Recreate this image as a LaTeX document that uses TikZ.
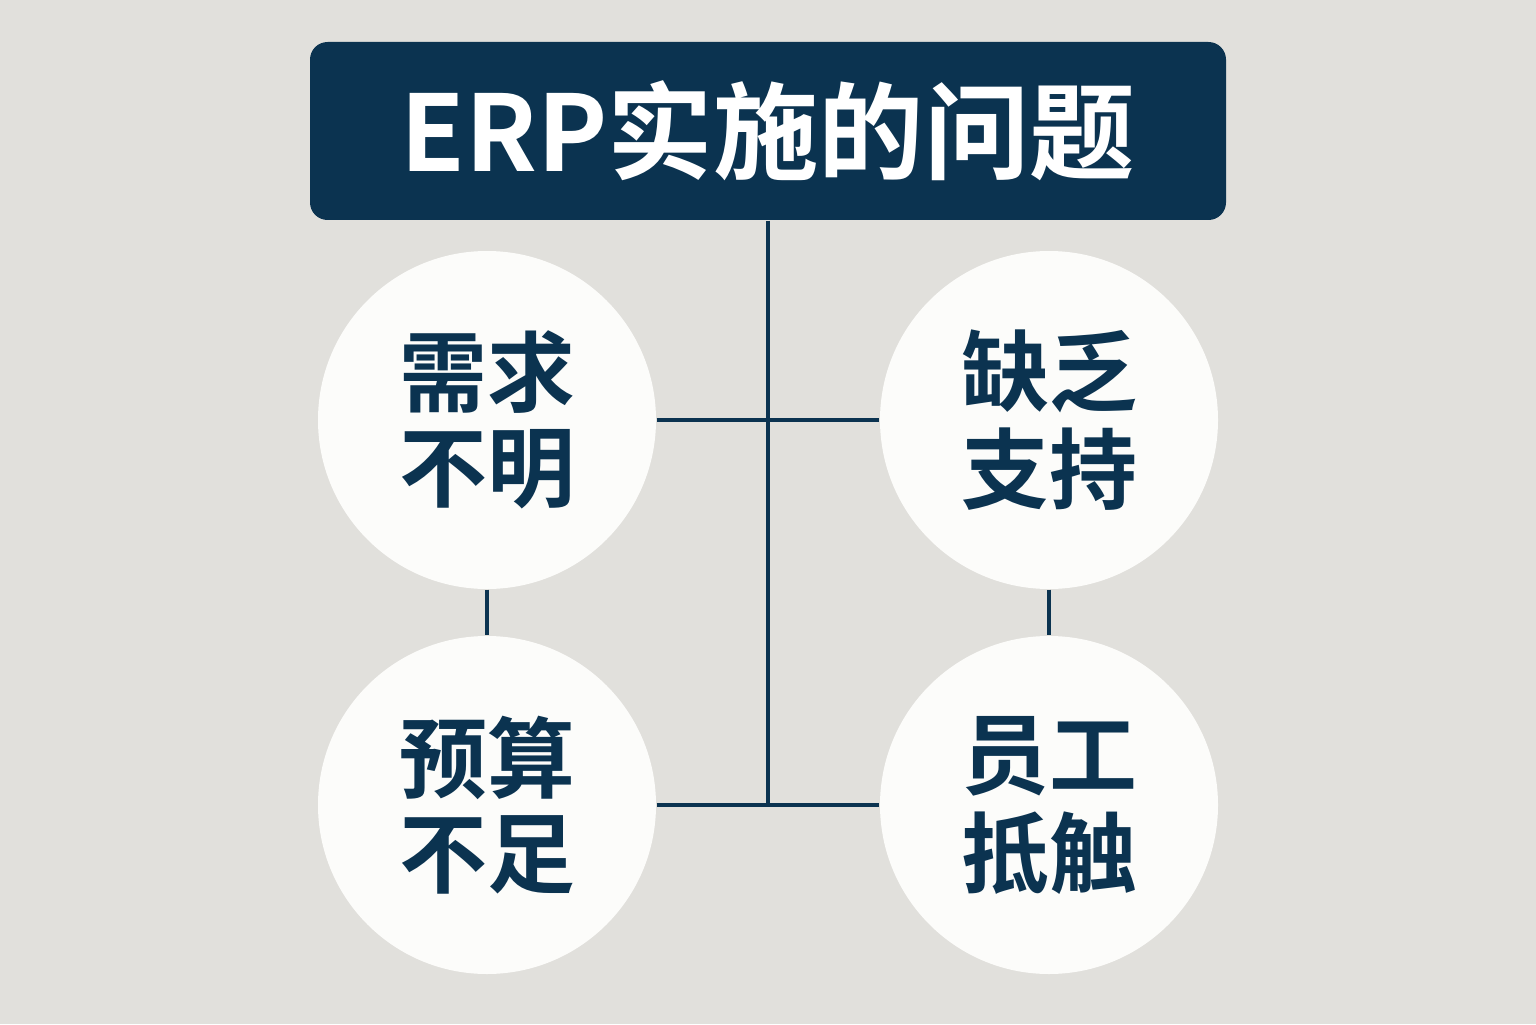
\documentclass[tikz,border=0pt]{standalone}
\usepackage{fontspec}
\setmainfont{Noto Sans CJK SC}[BoldFont={Noto Sans CJK SC Bold}]
\definecolor{navy}{HTML}{0B3350}
\definecolor{bggray}{HTML}{E1E0DC}
\definecolor{disc}{HTML}{FCFCFA}
\newcommand{\twolines}[2]{\raisebox{-0.15cm}{\shortstack{#1\\[0.05cm]#2}}}
\tikzset{
    issue/.style={circle, fill=disc, minimum size=3.38cm, inner sep=0pt, align=center,
        text=navy, font=\fontsize{25}{27.5}\selectfont\bfseries},
    link/.style={navy, line width=1.3pt}
}
\begin{document}
\begin{tikzpicture}
    % background
    \fill[bggray] (0,0) rectangle (15.36,10.24);

    % title bar
    \node[fill=navy, rounded corners=5pt, minimum width=9.16cm, minimum height=1.78cm,
        text=white, font=\fontsize{30}{34}\selectfont\bfseries] (title) at (7.68,8.93) {ERP实施的问题};

    % four problems
    \node[issue] (need) at (4.87,6.04) {\twolines{需求}{不明}};
    \node[issue] (support) at (10.49,6.04) {\twolines{缺乏}{支持}};
    \node[issue] (budget) at (4.87,2.19) {\twolines{预算}{不足}};
    \node[issue] (staff) at (10.49,2.19) {\twolines{员工}{抵触}};

    % connectors
    \draw[link] (title.south) -- (title.south |- budget.east);
    \draw[link] (need.east) -- (support.west);
    \draw[link] (budget.east) -- (staff.west);
    \draw[link] (need.south) -- (budget.north);
    \draw[link] (support.south) -- (staff.north);
\end{tikzpicture}
\end{document}
